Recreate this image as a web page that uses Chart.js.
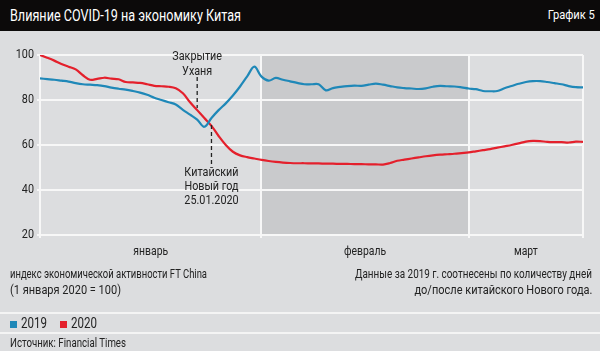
<!DOCTYPE html>
<html>
<head>
<meta charset="utf-8">
<script src="https://cdn.jsdelivr.net/npm/chart.js@4"></script>
<style>
  body { margin: 0; }
  #wrap { position: relative; width: 600px; height: 351px; background: #dcdddf; overflow: hidden;
    font-family: Roboto, sans-serif; color: #222; }
  #chart { position: absolute; left: 0; top: 0; }
  .t { position: absolute; white-space: nowrap; transform-origin: left center; }
  .r { transform-origin: right center; }
  #bar { position: absolute; left: 0; top: 0; width: 600px; height: 31px; background: #0c0a0a; }
  #title { left: 10px; top: 6px; font-size: 16.5px; color: #fff; }
  #num { right: 5px; top: 7px; font-size: 13px; color: #fff; }
  .note { font-size: 13px; }
  .sep { position: absolute; left: 0; width: 600px; height: 2px; background: #f4f4f4; }
  .sq { position: absolute; width: 7px; height: 7px; top: 321px; }
</style>
</head>
<body>
<div id="wrap">
  <canvas id="chart" width="600" height="351"></canvas>
  <div id="bar"></div>
  <div class="t" id="title" data-w="231">Влияние COVID-19 на экономику Китая</div>
  <div class="t r" id="num" data-w="47">График 5</div>
  <div class="t note" style="left:10px; top:266px" data-w="197">индекс экономической активности FT China</div>
  <div class="t note" style="left:10px; top:282px" data-w="111">(1 января 2020 = 100)</div>
  <div class="t note r" style="right:8px; top:266px" data-w="237">Данные за 2019 г. соотнесены по количеству дней</div>
  <div class="t note r" style="right:8px; top:282px" data-w="178">до/после китайского Нового года.</div>
  <div class="sep" style="top:312px"></div>
  <div class="sq" style="left:10px; background:#1f88b8"></div>
  <div class="t" style="left:21px; top:315px; font-size:14.5px" data-w="26">2019</div>
  <div class="sq" style="left:60px; background:#e4202c"></div>
  <div class="t" style="left:71px; top:315px; font-size:14.5px" data-w="26">2020</div>
  <div class="sep" style="top:332px"></div>
  <div class="t note" style="left:10px; top:335px" data-w="116">Источник: Financial Times</div>
</div>
<script>
// сжать текст до ширины как в оригинале (узкий шрифт)
document.querySelectorAll('[data-w]').forEach(el => {
  const w = el.getBoundingClientRect().width
  el.style.transform = 'scaleX(' + (el.dataset.w / w) + ')'
})

// days since 1 Jan
const days = [];
for (let d = 0; d <= 76; d++) days.push(d)

const v2019 = [89.6, 89.3, 89, 88.6, 88.2, 87.5, 87, 86.8, 86.6, 86.2,
  85.5, 85, 84.6, 84, 83.3, 82.3, 81, 80, 79, 78,
  75.6, 73.5, 71.3, 68.1, 72, 75.5, 78.5, 82, 86, 90.5,
  94.8, 90.4, 88.6, 89.8, 89, 88.3, 87.6, 87, 87, 87,
  84.3, 85.3, 85.8, 86.2, 86.4, 86.3, 86.8, 87.3, 86.8, 86.2,
  85.6, 85.3, 85.1, 84.9, 85.2, 85.9, 86.3, 86.1, 86, 85.6,
  85.1, 84.8, 84, 83.9, 84, 85.2, 86.2, 87.2, 88, 88.4,
  88.4, 88, 87.5, 87, 86.2, 85.7, 85.6]

const v2020 = [100, 98.8, 97.5, 96, 94.8, 93.6, 91, 89, 89.4, 89.9,
  89.5, 89.2, 88, 87.8, 87.6, 87, 86.3, 86.1, 85.9, 85.2,
  83, 79, 75.5, 72, 68.5, 64, 60, 57, 55.4, 54.6,
  54, 53.4, 52.9, 52.5, 52.2, 52, 51.9, 51.9, 51.8, 51.8,
  51.7, 51.7, 51.6, 51.6, 51.5, 51.5, 51.4, 51.4, 51.3, 52,
  53, 53.5, 54, 54.5, 55, 55.4, 55.7, 55.9, 56.1, 56.4,
  56.7, 57.2, 57.7, 58.2, 58.8, 59.4, 60, 60.7, 61.5, 61.8,
  61.7, 61.4, 61.3, 61.3, 61.1, 61.5, 61.4]

const monthStarts = [0, 31, 60, 76]
const monthMid = [15.5, 45.5, 68]
const monthNames = ['январь', 'февраль', 'март']

const SQ = 0.8 // горизонтальное сжатие текста на канве

function txt(ctx, s, x, y, align) {
  ctx.save()
  ctx.translate(x, y)
  ctx.scale(SQ, 1)
  ctx.textAlign = align
  ctx.fillText(s, 0, 0)
  ctx.restore()
}

// серая полоса февраля, подписи осей, пометки
const extras = {
  id: 'extras',
  beforeDraw(chart) {
    const { ctx, chartArea: a, scales: { x } } = chart
    ctx.save()
    ctx.fillStyle = '#c9cacc'
    ctx.fillRect(x.getPixelForValue(31), a.top, x.getPixelForValue(60) - x.getPixelForValue(31), a.bottom - a.top)
    ctx.restore()
  },
  afterDraw(chart) {
    const { ctx, chartArea: a, scales: { x, y } } = chart
    ctx.save()
    ctx.fillStyle = '#222'
    ctx.textBaseline = 'middle'
    ctx.font = '13.5px Roboto, sans-serif'
    y.ticks.forEach(t => txt(ctx, String(t.value), a.left - 6, y.getPixelForValue(t.value), 'right'))
    ctx.font = '13px Roboto, sans-serif'
    monthMid.forEach((m, i) => txt(ctx, monthNames[i], x.getPixelForValue(m), 252, 'center'))
    ctx.restore()
  },
  afterDatasetsDraw(chart) {
    const { ctx, scales: { x, y } } = chart
    ctx.save()
    ctx.strokeStyle = '#222'
    ctx.lineWidth = 1.3
    ctx.setLineDash([4, 3])
    const lines = [[22, 90.2, 76.4], [24, 68.9, 51.1]]
    lines.forEach(l => {
      ctx.beginPath()
      ctx.moveTo(x.getPixelForValue(l[0]), y.getPixelForValue(l[1]))
      ctx.lineTo(x.getPixelForValue(l[0]), y.getPixelForValue(l[2]))
      ctx.stroke()
    })
    ctx.fillStyle = '#222'
    ctx.textBaseline = 'middle'
    ctx.font = '13.5px Roboto, sans-serif'
    txt(ctx, 'Закрытие', x.getPixelForValue(22), 57, 'center')
    txt(ctx, 'Уханя', x.getPixelForValue(22), 72, 'center')
    txt(ctx, 'Китайский', x.getPixelForValue(24), 173, 'center')
    txt(ctx, 'Новый год', x.getPixelForValue(24), 187, 'center')
    txt(ctx, '25.01.2020', x.getPixelForValue(24), 201, 'center')
    ctx.restore()
  }
}

new Chart(document.getElementById('chart'), {
  type: 'line',
  data: {
    labels: days,
    datasets: [
      { label: '2019', data: days.map((d, i) => ({ x: d, y: v2019[i] })), borderColor: '#1f88b8', borderWidth: 2.2, pointRadius: 0, tension: 0.35 },
      { label: '2020', data: days.map((d, i) => ({ x: d, y: v2020[i] })), borderColor: '#e4202c', borderWidth: 2.2, pointRadius: 0, tension: 0.35 }
    ]
  },
  options: {
    responsive: false,
    animation: false,
    layout: { padding: { top: 55, right: 17, left: 0, bottom: 0 } },
    plugins: { legend: { display: false }, tooltip: { enabled: false } },
    scales: {
      x: {
        type: 'linear', min: 0, max: 76,
        afterBuildTicks: s => { s.ticks = monthStarts.map(v => ({ value: v })) },
        afterFit: s => { s.height = 351 - 235 },
        grid: { color: '#f7f7f7', lineWidth: 2, tickLength: 3 },
        border: { display: false },
        ticks: { display: false }
      },
      y: {
        min: 20, max: 100,
        afterBuildTicks: s => { s.ticks = [20, 40, 60, 80, 100].map(v => ({ value: v })) },
        afterFit: s => { s.width = 40 },
        grid: { color: '#f7f7f7', lineWidth: 2, tickLength: 3 },
        border: { display: false },
        ticks: { display: false }
      }
    }
  },
  plugins: [extras]
})
</script>
</body>
</html>
